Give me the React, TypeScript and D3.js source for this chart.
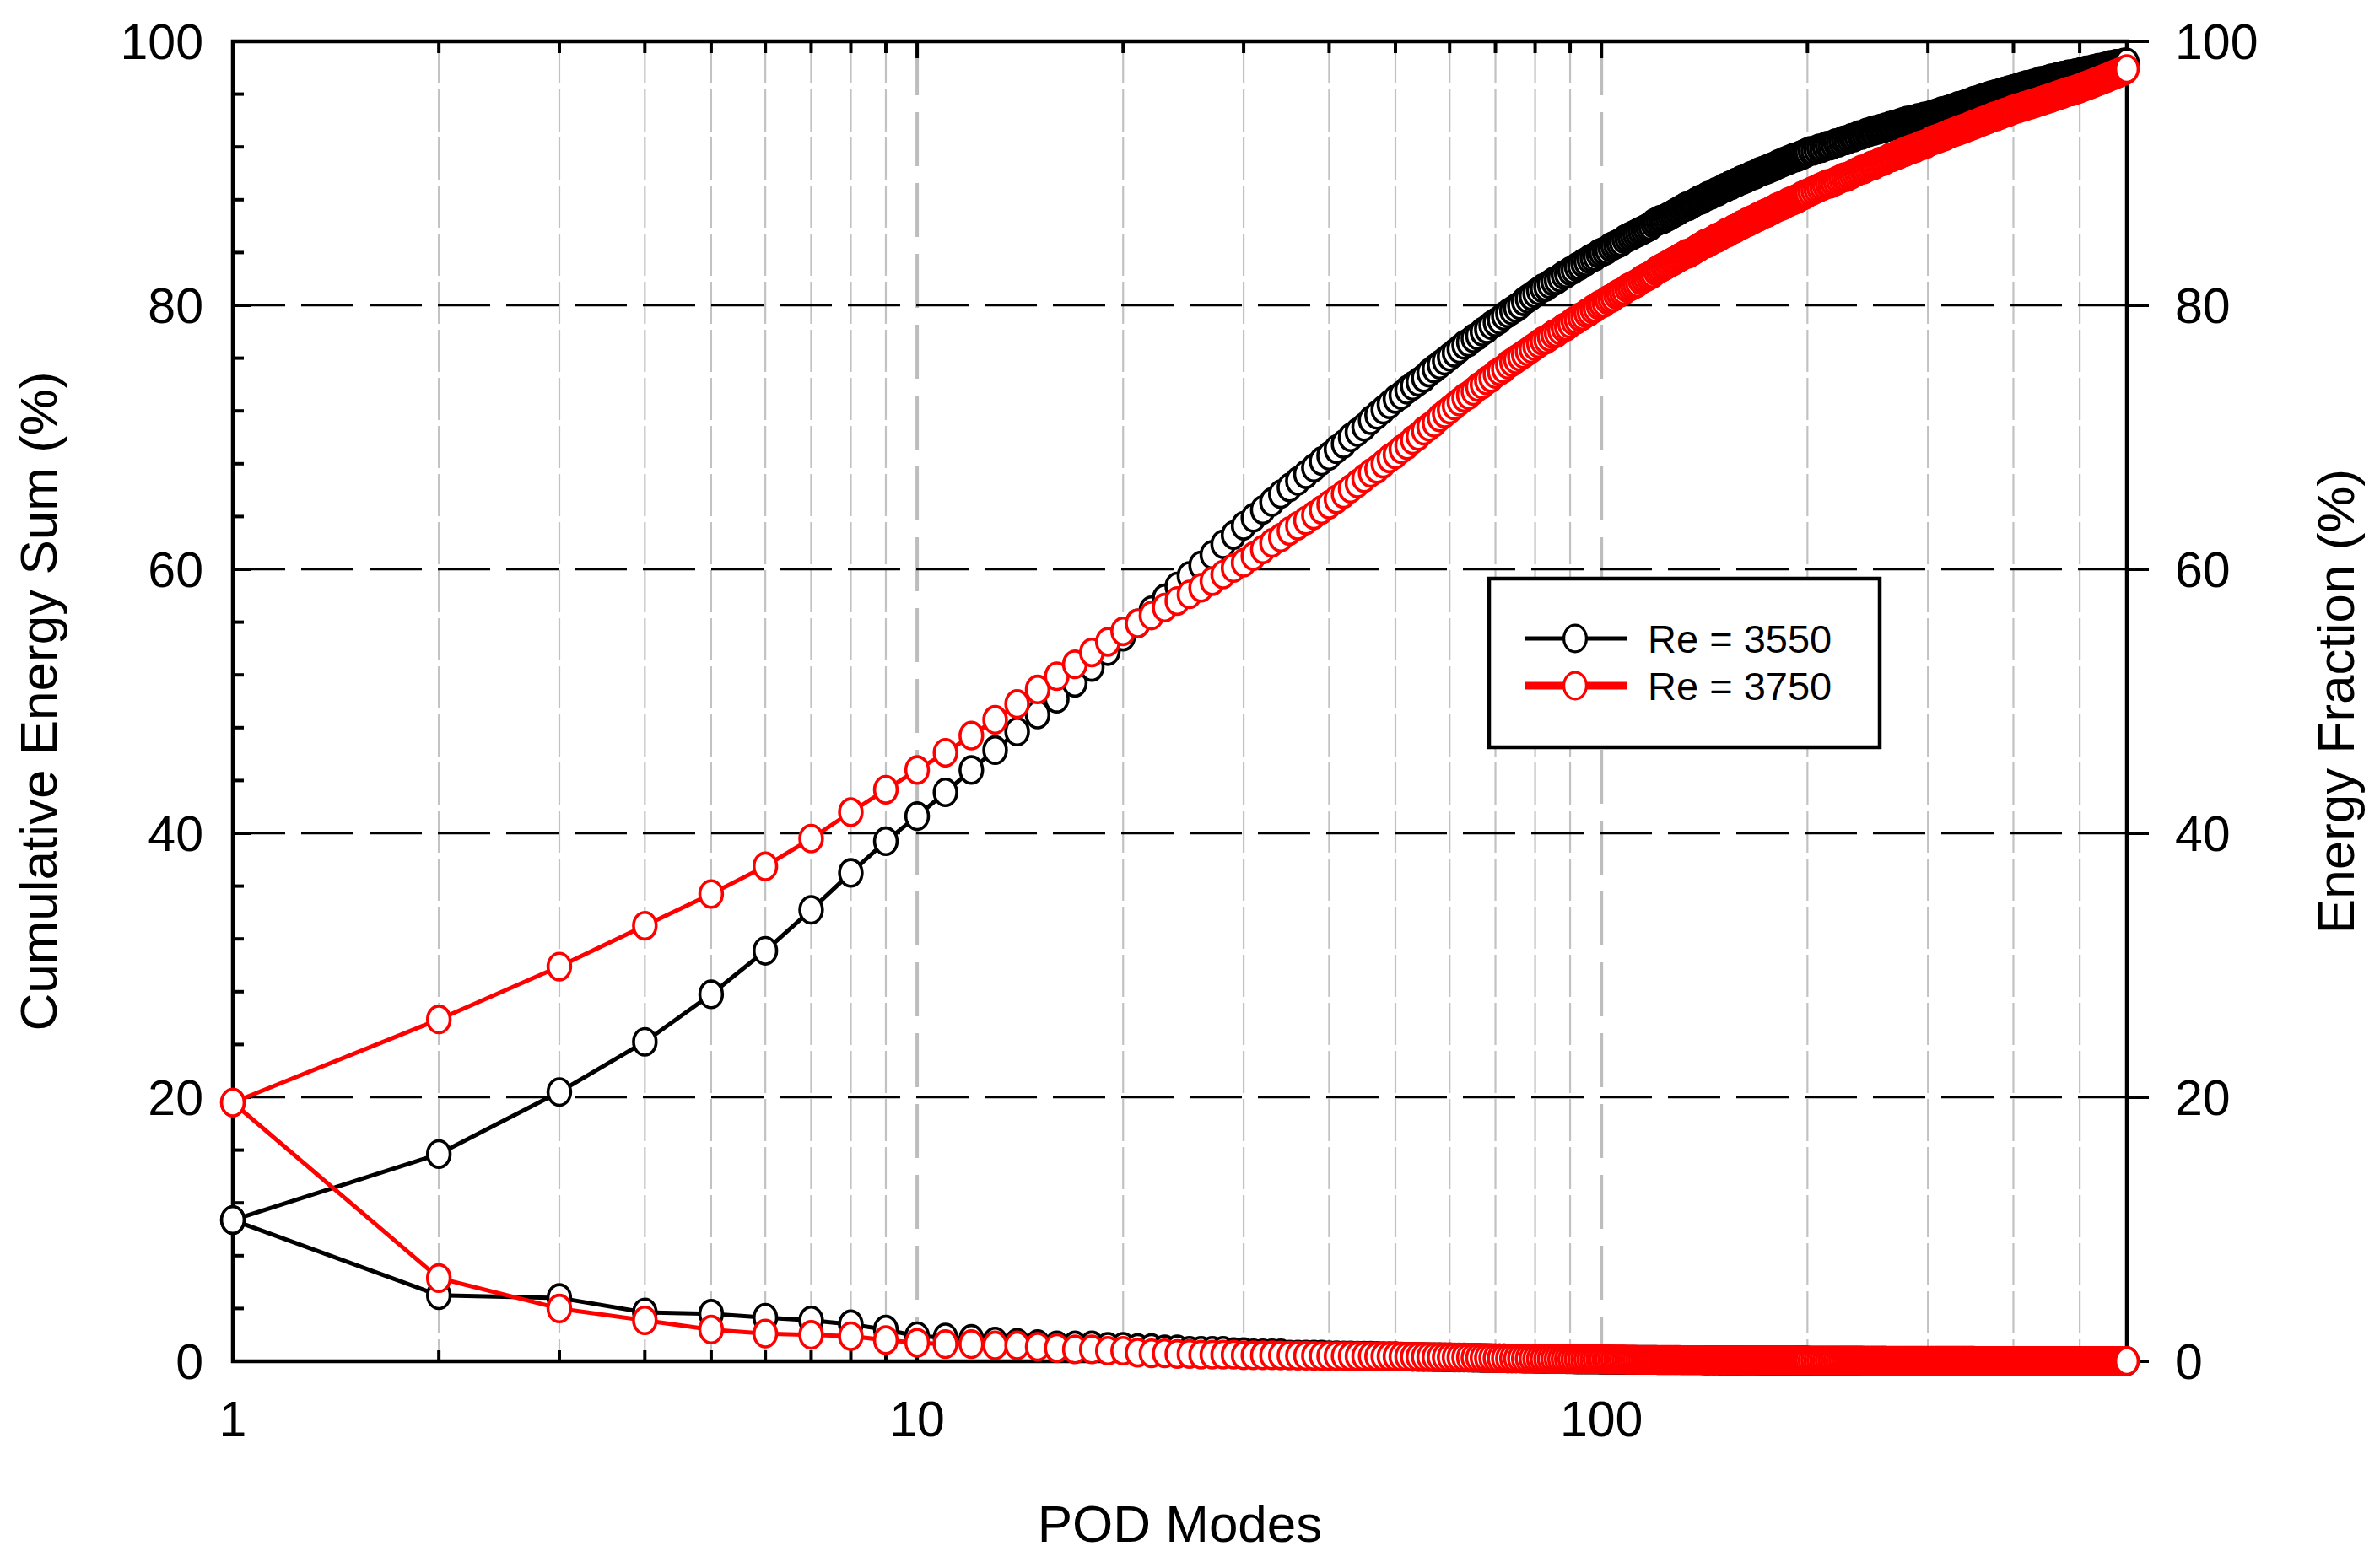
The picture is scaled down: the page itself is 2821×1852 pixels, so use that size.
import React from 'react';
import * as d3 from 'd3';

// ---------- DATA ----------
// sampled POD mode numbers (x categories)
const MODES: number[] = [
  ...d3.range(1, 201),
  ...d3.range(202, 401, 2),
  ...d3.range(403, 587, 3),
];

const CUM_3550 = [
  // 1-100
  10.7, 15.7, 20.4, 24.2, 27.8, 31.1, 34.2, 37.0, 39.4, 41.3,
  43.1, 44.8, 46.3, 47.7, 49.0, 50.2, 51.4, 52.6, 53.8, 54.9,
  55.9, 56.9, 57.8, 58.7, 59.5, 60.3, 61.1, 61.9, 62.6, 63.3,
  63.9, 64.5, 65.1, 65.7, 66.2, 66.7, 67.2, 67.7, 68.2, 68.6,
  69.1, 69.5, 70.0, 70.4, 70.8, 71.3, 71.7, 72.1, 72.5, 72.9,
  73.2, 73.6, 73.9, 74.2, 74.5, 74.9, 75.2, 75.5, 75.8, 76.1,
  76.4, 76.7, 77.0, 77.2, 77.5, 77.7, 78.0, 78.2, 78.5, 78.7,
  78.9, 79.2, 79.4, 79.6, 79.8, 80.0, 80.3, 80.5, 80.7, 80.9,
  81.1, 81.3, 81.4, 81.6, 81.8, 81.9, 82.1, 82.3, 82.4, 82.6,
  82.7, 82.9, 83.0, 83.2, 83.3, 83.5, 83.6, 83.7, 83.9, 84.0,
  // 101-200
  84.1, 84.2, 84.4, 84.5, 84.6, 84.7, 84.8, 85.0, 85.1, 85.2,
  85.3, 85.4, 85.5, 85.6, 85.7, 85.8, 85.9, 86.0, 86.2, 86.3,
  86.4, 86.5, 86.5, 86.6, 86.7, 86.8, 86.9, 87.0, 87.1, 87.2,
  87.3, 87.4, 87.5, 87.5, 87.6, 87.7, 87.8, 87.9, 88.0, 88.0,
  88.1, 88.2, 88.3, 88.3, 88.4, 88.5, 88.6, 88.6, 88.7, 88.8,
  88.9, 88.9, 89.0, 89.1, 89.1, 89.2, 89.3, 89.3, 89.4, 89.5,
  89.5, 89.6, 89.6, 89.7, 89.8, 89.8, 89.9, 89.9, 90.0, 90.1,
  90.1, 90.2, 90.2, 90.3, 90.3, 90.4, 90.4, 90.5, 90.5, 90.6,
  90.7, 90.7, 90.8, 90.8, 90.9, 90.9, 91.0, 91.0, 91.1, 91.1,
  91.2, 91.2, 91.2, 91.3, 91.3, 91.4, 91.4, 91.5, 91.5, 91.6,
  // 202-300 step 2
  91.7, 91.7, 91.8, 91.9, 91.9, 92.0, 92.1, 92.1, 92.2, 92.3,
  92.3, 92.4, 92.5, 92.5, 92.6, 92.7, 92.7, 92.8, 92.9, 92.9,
  93.0, 93.1, 93.1, 93.2, 93.2, 93.3, 93.3, 93.4, 93.4, 93.5,
  93.5, 93.6, 93.6, 93.7, 93.7, 93.8, 93.8, 93.9, 93.9, 94.0,
  94.0, 94.0, 94.1, 94.1, 94.2, 94.2, 94.2, 94.3, 94.3, 94.3,
  // 302-400 step 2
  94.4, 94.4, 94.5, 94.5, 94.6, 94.6, 94.7, 94.7, 94.7, 94.8,
  94.8, 94.9, 94.9, 95.0, 95.0, 95.1, 95.1, 95.1, 95.2, 95.2,
  95.3, 95.3, 95.4, 95.4, 95.5, 95.5, 95.5, 95.6, 95.6, 95.7,
  95.7, 95.7, 95.8, 95.8, 95.9, 95.9, 95.9, 96.0, 96.0, 96.0,
  96.1, 96.1, 96.1, 96.2, 96.2, 96.2, 96.3, 96.3, 96.3, 96.4,
  // 403-586 step 3
  96.4, 96.5, 96.5, 96.6, 96.6, 96.7, 96.7, 96.7, 96.8, 96.8,
  96.9, 96.9, 97.0, 97.0, 97.0, 97.1, 97.1, 97.2, 97.2, 97.2,
  97.3, 97.3, 97.3, 97.4, 97.4, 97.4, 97.5, 97.5, 97.5, 97.5,
  97.6, 97.6, 97.6, 97.7, 97.7, 97.7, 97.8, 97.8, 97.8, 97.8,
  97.9, 97.9, 97.9, 98.0, 98.0, 98.0, 98.0, 98.1, 98.1, 98.1,
  98.2, 98.2, 98.2, 98.2, 98.3, 98.3, 98.3, 98.3, 98.3, 98.4,
  98.4, 98.4,
];

const CUM_3750 = [
  // 1-100
  19.6, 25.9, 29.9, 33.0, 35.4, 37.5, 39.6, 41.6, 43.3, 44.8,
  46.1, 47.4, 48.6, 49.8, 50.9, 51.9, 52.8, 53.7, 54.5, 55.3,
  55.9, 56.5, 57.1, 57.6, 58.1, 58.6, 59.1, 59.6, 60.1, 60.5,
  61.0, 61.5, 62.0, 62.4, 62.9, 63.3, 63.7, 64.1, 64.5, 64.9,
  65.3, 65.7, 66.1, 66.5, 66.9, 67.3, 67.6, 68.0, 68.4, 68.7,
  69.1, 69.4, 69.8, 70.1, 70.5, 70.8, 71.1, 71.5, 71.8, 72.1,
  72.4, 72.7, 73.0, 73.2, 73.5, 73.8, 74.0, 74.3, 74.5, 74.8,
  75.0, 75.2, 75.5, 75.7, 75.9, 76.1, 76.3, 76.5, 76.7, 76.9,
  77.1, 77.3, 77.4, 77.6, 77.8, 77.9, 78.1, 78.3, 78.4, 78.6,
  78.8, 78.9, 79.1, 79.2, 79.4, 79.5, 79.7, 79.8, 80.0, 80.1,
  // 101-200
  80.2, 80.4, 80.5, 80.6, 80.8, 80.9, 81.0, 81.1, 81.3, 81.4,
  81.5, 81.6, 81.7, 81.9, 82.0, 82.1, 82.2, 82.3, 82.4, 82.6,
  82.7, 82.8, 82.9, 83.0, 83.1, 83.2, 83.3, 83.4, 83.5, 83.6,
  83.7, 83.8, 83.9, 83.9, 84.0, 84.1, 84.2, 84.3, 84.4, 84.5,
  84.6, 84.7, 84.7, 84.8, 84.9, 85.0, 85.1, 85.1, 85.2, 85.3,
  85.4, 85.5, 85.5, 85.6, 85.7, 85.8, 85.8, 85.9, 86.0, 86.1,
  86.1, 86.2, 86.3, 86.3, 86.4, 86.5, 86.5, 86.6, 86.7, 86.7,
  86.8, 86.9, 86.9, 87.0, 87.0, 87.1, 87.2, 87.2, 87.3, 87.4,
  87.4, 87.5, 87.5, 87.6, 87.6, 87.7, 87.8, 87.8, 87.9, 87.9,
  88.0, 88.0, 88.1, 88.1, 88.2, 88.3, 88.3, 88.4, 88.4, 88.5,
  // 202-300 step 2
  88.6, 88.7, 88.8, 88.9, 89.0, 89.1, 89.2, 89.2, 89.3, 89.4,
  89.5, 89.6, 89.7, 89.7, 89.8, 89.9, 90.0, 90.1, 90.2, 90.3,
  90.3, 90.4, 90.5, 90.6, 90.6, 90.7, 90.8, 90.9, 90.9, 91.0,
  91.1, 91.2, 91.2, 91.3, 91.4, 91.4, 91.5, 91.6, 91.6, 91.7,
  91.8, 91.8, 91.9, 91.9, 92.0, 92.1, 92.1, 92.2, 92.2, 92.3,
  // 302-400 step 2
  92.4, 92.5, 92.5, 92.6, 92.6, 92.7, 92.7, 92.8, 92.8, 92.9,
  93.0, 93.0, 93.1, 93.1, 93.2, 93.2, 93.3, 93.3, 93.4, 93.4,
  93.5, 93.5, 93.6, 93.6, 93.7, 93.7, 93.8, 93.8, 93.9, 93.9,
  94.0, 94.0, 94.1, 94.1, 94.2, 94.2, 94.3, 94.3, 94.3, 94.4,
  94.4, 94.5, 94.5, 94.6, 94.6, 94.6, 94.7, 94.7, 94.8, 94.8,
  // 403-586 step 3
  94.9, 94.9, 95.0, 95.0, 95.1, 95.1, 95.2, 95.2, 95.3, 95.3,
  95.4, 95.4, 95.5, 95.5, 95.6, 95.6, 95.7, 95.7, 95.8, 95.8,
  95.9, 95.9, 96.0, 96.0, 96.1, 96.1, 96.2, 96.2, 96.2, 96.3,
  96.3, 96.4, 96.4, 96.5, 96.5, 96.6, 96.6, 96.7, 96.7, 96.8,
  96.8, 96.9, 96.9, 97.0, 97.0, 97.1, 97.1, 97.2, 97.2, 97.3,
  97.3, 97.4, 97.4, 97.5, 97.5, 97.6, 97.6, 97.7, 97.7, 97.8,
  97.8, 97.9,
];

const FRAC_3550 = [
  // 1-150
  10.7, 5.0, 4.8, 3.7, 3.6, 3.3, 3.1, 2.8, 2.4, 1.9,
  1.8, 1.7, 1.5, 1.4, 1.3, 1.2, 1.2, 1.2, 1.1, 1.1,
  1.0, 1.0, 0.9, 0.9, 0.8, 0.8, 0.8, 0.8, 0.7, 0.7,
  0.6, 0.6, 0.6, 0.6, 0.5, 0.5, 0.5, 0.5, 0.5, 0.45,
  0.45, 0.44, 0.44, 0.43, 0.42, 0.42, 0.41, 0.4, 0.4, 0.39,
  0.36, 0.35, 0.34, 0.33, 0.33, 0.32, 0.31, 0.31, 0.3, 0.3,
  0.28, 0.28, 0.27, 0.27, 0.26, 0.26, 0.25, 0.25, 0.24, 0.24,
  0.23, 0.23, 0.22, 0.22, 0.21, 0.21, 0.2, 0.2, 0.2, 0.19,
  0.18, 0.18, 0.17, 0.17, 0.17, 0.16, 0.16, 0.16, 0.15, 0.15,
  0.15, 0.14, 0.14, 0.14, 0.14, 0.13, 0.13, 0.13, 0.13, 0.12,
  0.12, 0.12, 0.12, 0.12, 0.11, 0.11, 0.11, 0.11, 0.11, 0.11,
  0.1, 0.1, 0.1, 0.1, 0.1, 0.1, 0.1, 0.1, 0.1, 0.1,
  0.09, 0.09, 0.09, 0.09, 0.09, 0.09, 0.09, 0.09, 0.09, 0.09,
  0.08, 0.08, 0.08, 0.08, 0.08, 0.08, 0.08, 0.08, 0.08, 0.08,
  0.07, 0.07, 0.07, 0.07, 0.07, 0.07, 0.07, 0.07, 0.07, 0.07,
  // 151-200
  0.07, 0.07, 0.07, 0.07, 0.07, 0.07, 0.07, 0.07, 0.07, 0.07,
  0.065, 0.065, 0.065, 0.065, 0.065, 0.065, 0.065, 0.065, 0.065, 0.065,
  0.06, 0.06, 0.06, 0.06, 0.06, 0.06, 0.06, 0.06, 0.06, 0.06,
  0.055, 0.055, 0.055, 0.055, 0.055, 0.055, 0.055, 0.055, 0.055, 0.055,
  0.05, 0.05, 0.05, 0.05, 0.05, 0.05, 0.05, 0.05, 0.05, 0.05,
  // 202-300 step 2
  0.045, 0.045, 0.045, 0.045, 0.045, 0.045, 0.045, 0.045, 0.045, 0.045,
  0.035, 0.035, 0.035, 0.035, 0.035, 0.035, 0.035, 0.035, 0.035, 0.035,
  0.035, 0.035, 0.035, 0.035, 0.035, 0.035, 0.035, 0.035, 0.035, 0.035,
  0.028, 0.028, 0.028, 0.028, 0.028, 0.028, 0.028, 0.028, 0.028, 0.028,
  0.028, 0.028, 0.028, 0.028, 0.028, 0.028, 0.028, 0.028, 0.028, 0.028,
  // 302-400 step 2
  0.024, 0.024, 0.024, 0.024, 0.024, 0.024, 0.024, 0.024, 0.024, 0.024,
  0.024, 0.024, 0.024, 0.024, 0.024, 0.024, 0.024, 0.024, 0.024, 0.024,
  0.024, 0.024, 0.024, 0.024, 0.024, 0.02, 0.02, 0.02, 0.02, 0.02,
  0.02, 0.02, 0.02, 0.02, 0.02, 0.02, 0.02, 0.02, 0.02, 0.02,
  0.02, 0.02, 0.02, 0.02, 0.02, 0.02, 0.02, 0.02, 0.02, 0.02,
  // 403-586 step 3
  0.016, 0.016, 0.016, 0.016, 0.016, 0.016, 0.016, 0.016, 0.016, 0.016,
  0.016, 0.016, 0.016, 0.016, 0.016, 0.016, 0.016, 0.016, 0.016, 0.016,
  0.013, 0.013, 0.013, 0.013, 0.013, 0.013, 0.013, 0.013, 0.013, 0.013,
  0.013, 0.013, 0.013, 0.013, 0.013, 0.013, 0.013, 0.013, 0.013, 0.013,
  0.012, 0.012, 0.012, 0.012, 0.012, 0.012, 0.012, 0.012, 0.012, 0.012,
  0.012, 0.012, 0.012, 0.012, 0.012, 0.012, 0.012, 0.012, 0.012, 0.012,
  0.012, 0.012,
];

const FRAC_3750 = [
  // 1-150
  19.6, 6.3, 4.0, 3.1, 2.4, 2.1, 2.0, 1.9, 1.6, 1.4,
  1.3, 1.3, 1.2, 1.2, 1.1, 1.0, 0.9, 0.9, 0.8, 0.8,
  0.65, 0.6, 0.6, 0.55, 0.55, 0.5, 0.5, 0.5, 0.5, 0.45,
  0.45, 0.45, 0.45, 0.44, 0.43, 0.42, 0.42, 0.41, 0.4, 0.4,
  0.4, 0.4, 0.39, 0.39, 0.38, 0.38, 0.37, 0.37, 0.36, 0.36,
  0.35, 0.35, 0.34, 0.34, 0.33, 0.33, 0.32, 0.32, 0.31, 0.31,
  0.3, 0.29, 0.29, 0.28, 0.27, 0.27, 0.26, 0.25, 0.25, 0.24,
  0.23, 0.23, 0.22, 0.22, 0.21, 0.21, 0.2, 0.2, 0.2, 0.19,
  0.18, 0.18, 0.18, 0.17, 0.17, 0.17, 0.16, 0.16, 0.16, 0.16,
  0.15, 0.15, 0.15, 0.15, 0.15, 0.15, 0.15, 0.15, 0.15, 0.15,
  0.14, 0.14, 0.14, 0.13, 0.13, 0.13, 0.13, 0.13, 0.12, 0.12,
  0.12, 0.12, 0.11, 0.11, 0.11, 0.11, 0.11, 0.11, 0.1, 0.1,
  0.1, 0.1, 0.1, 0.1, 0.1, 0.1, 0.1, 0.1, 0.1, 0.1,
  0.09, 0.09, 0.09, 0.09, 0.09, 0.09, 0.09, 0.09, 0.09, 0.09,
  0.08, 0.08, 0.08, 0.08, 0.08, 0.08, 0.08, 0.08, 0.08, 0.08,
  // 151-200
  0.08, 0.08, 0.08, 0.08, 0.08, 0.08, 0.08, 0.08, 0.08, 0.08,
  0.075, 0.075, 0.075, 0.075, 0.075, 0.075, 0.075, 0.075, 0.075, 0.075,
  0.07, 0.07, 0.07, 0.07, 0.07, 0.07, 0.07, 0.07, 0.07, 0.07,
  0.07, 0.07, 0.07, 0.07, 0.07, 0.07, 0.07, 0.07, 0.07, 0.07,
  0.065, 0.065, 0.065, 0.065, 0.065, 0.065, 0.065, 0.065, 0.065, 0.065,
  // 202-300 step 2
  0.06, 0.06, 0.06, 0.06, 0.06, 0.06, 0.06, 0.06, 0.06, 0.06,
  0.05, 0.05, 0.05, 0.05, 0.05, 0.05, 0.05, 0.05, 0.05, 0.05,
  0.045, 0.045, 0.045, 0.045, 0.045, 0.045, 0.045, 0.045, 0.045, 0.045,
  0.045, 0.045, 0.045, 0.045, 0.045, 0.04, 0.04, 0.04, 0.04, 0.04,
  0.04, 0.04, 0.04, 0.04, 0.04, 0.04, 0.04, 0.04, 0.04, 0.04,
  // 302-400 step 2
  0.035, 0.035, 0.035, 0.035, 0.035, 0.035, 0.035, 0.035, 0.035, 0.035,
  0.035, 0.035, 0.035, 0.035, 0.035, 0.035, 0.035, 0.035, 0.035, 0.035,
  0.035, 0.035, 0.035, 0.035, 0.035, 0.03, 0.03, 0.03, 0.03, 0.03,
  0.03, 0.03, 0.03, 0.03, 0.03, 0.03, 0.03, 0.03, 0.03, 0.03,
  0.03, 0.03, 0.03, 0.03, 0.03, 0.03, 0.03, 0.03, 0.03, 0.03,
  // 403-586 step 3
  0.025, 0.025, 0.025, 0.025, 0.025, 0.025, 0.025, 0.025, 0.025, 0.025,
  0.025, 0.025, 0.025, 0.025, 0.025, 0.025, 0.025, 0.025, 0.025, 0.025,
  0.02, 0.02, 0.02, 0.02, 0.02, 0.02, 0.02, 0.02, 0.02, 0.02,
  0.02, 0.02, 0.02, 0.02, 0.02, 0.02, 0.02, 0.02, 0.02, 0.02,
  0.018, 0.018, 0.018, 0.018, 0.018, 0.018, 0.018, 0.018, 0.018, 0.018,
  0.018, 0.018, 0.018, 0.018, 0.018, 0.018, 0.018, 0.018, 0.018, 0.018,
  0.018, 0.018,
];

const SERIES_NAMES = ['Re = 3550', 'Re = 3750'];
const SERIES_COLORS = ['#000000', '#ff0000'];

const Y_TICKS = [0, 20, 40, 60, 80, 100];
const Y_MINOR = [4, 8, 12, 16, 24, 28, 32, 36, 44, 48, 52, 56, 64, 68, 72, 76, 84, 88, 92, 96];
const X_MAJOR = [1, 10, 100];
const X_MAJOR_LABELS = ['1', '10', '100'];
const X_MINOR = [2, 3, 4, 5, 6, 7, 8, 9, 20, 30, 40, 50, 60, 70, 80, 90, 200, 300, 400, 500];
const X_MAX = 586;

const X_TITLE = 'POD Modes';
const Y_TITLE_LEFT = 'Cumulative Energy Sum (%)';
const Y_TITLE_RIGHT = 'Energy Fraction (%)';

// ---------- LAYOUT ----------
const W = 2821;
const H = 1852;
const L = 276, R = 2521, T = 49, B = 1614;
const FONT = "'Liberation Sans', Arial, Helvetica, sans-serif";

export default function App() {
  const x = d3.scaleLog().domain([1, X_MAX]).range([L, R]);
  const y = d3.scaleLinear().domain([0, 100]).range([B, T]);
  const line = d3.line<[number, number]>().x((d) => x(d[0])).y((d) => y(d[1]));

  const zip = (vals: number[]): [number, number][] => {
    const n = Math.min(MODES.length, vals.length);
    const out: [number, number][] = [];
    for (let i = 0; i < n; i++) out.push([MODES[i], vals[i]]);
    return out;
  };

  const series = [
    { name: SERIES_NAMES[0], color: SERIES_COLORS[0], cum: zip(CUM_3550), frac: zip(FRAC_3550), lw: 5 },
    { name: SERIES_NAMES[1], color: SERIES_COLORS[1], cum: zip(CUM_3750), frac: zip(FRAC_3750), lw: 5 },
  ];

  const RX = 13.4;
  const RY = 15.8;
  const MSW = 3.6;

  return (
    <svg
      width={W}
      height={H}
      viewBox={`0 0 ${W} ${H}`}
      style={{ position: 'absolute', left: 0, top: 0, display: 'block', background: '#fff' }}
      fontFamily={FONT}
    >
      <rect x={0} y={0} width={W} height={H} fill="#fff" />

      {/* vertical grid */}
      {X_MINOR.map((v) => (
        <line key={'gx' + v} x1={x(v)} x2={x(v)} y1={T} y2={B} stroke="#c2c2c2" strokeWidth={2.2} strokeDasharray="50,7" />
      ))}
      {X_MAJOR.slice(1).map((v) => (
        <line key={'gX' + v} x1={x(v)} x2={x(v)} y1={T} y2={B} stroke="#bdbdbd" strokeWidth={4} strokeDasharray="64,20" />
      ))}
      {/* horizontal grid */}
      {Y_TICKS.slice(1, -1).map((v) => (
        <line key={'gy' + v} x1={L} x2={R} y1={y(v)} y2={y(v)} stroke="#000" strokeWidth={2.6} strokeDasharray="62,19" />
      ))}

      {/* frame and ticks */}
      <g stroke="#000" strokeWidth={4}>
        {Y_TICKS.map((v) => (
          <line key={'lt' + v} x1={L} x2={L + 21} y1={y(v)} y2={y(v)} />
        ))}
        {Y_MINOR.map((v) => (
          <line key={'lm' + v} x1={L} x2={L + 13} y1={y(v)} y2={y(v)} />
        ))}
        {Y_TICKS.map((v) => (
          <line key={'rt' + v} x1={R} x2={R + 26} y1={y(v)} y2={y(v)} />
        ))}
        {X_MINOR.map((v) => (
          <g key={'xm' + v}>
            <line x1={x(v)} x2={x(v)} y1={B} y2={B - 13} />
            <line x1={x(v)} x2={x(v)} y1={T} y2={T + 14} />
          </g>
        ))}
        {X_MAJOR.slice(1).map((v) => (
          <g key={'xM' + v}>
            <line x1={x(v)} x2={x(v)} y1={B} y2={B - 20} />
            <line x1={x(v)} x2={x(v)} y1={T} y2={T + 20} />
          </g>
        ))}
      </g>
      <rect x={L} y={T} width={R - L} height={B - T} fill="none" stroke="#000" strokeWidth={4.5} />

      {/* series */}
      {series.map((s) => (
        <g key={s.name}>
          <path d={line(s.cum) || ''} fill="none" stroke={s.color} strokeWidth={s.lw} strokeLinejoin="round" />
          <path d={line(s.frac) || ''} fill="none" stroke={s.color} strokeWidth={s.lw} strokeLinejoin="round" />
          {s.cum.map((d, i) => (
            <ellipse key={'c' + i} cx={x(d[0])} cy={y(d[1])} rx={RX} ry={RY} fill="#fff" stroke={s.color} strokeWidth={MSW} />
          ))}
          {s.frac.map((d, i) => (
            <ellipse key={'f' + i} cx={x(d[0])} cy={y(d[1])} rx={RX} ry={RY} fill="#fff" stroke={s.color} strokeWidth={MSW} />
          ))}
        </g>
      ))}

      {/* tick labels */}
      <g fontSize={59} fill="#000">
        {Y_TICKS.map((v) => (
          <text key={'yl' + v} x={241} y={y(v) + 21} textAnchor="end">
            {String(v)}
          </text>
        ))}
        {Y_TICKS.map((v) => (
          <text key={'yr' + v} x={2578} y={y(v) + 21} textAnchor="start">
            {String(v)}
          </text>
        ))}
        {X_MAJOR.map((v, i) => (
          <text key={'xl' + v} x={x(v)} y={1703} textAnchor="middle">
            {X_MAJOR_LABELS[i]}
          </text>
        ))}
      </g>

      {/* axis titles */}
      <text x={(L + R) / 2} y={1828} textAnchor="middle" fontSize={62}>
        {X_TITLE}
      </text>
      <text transform={`translate(67, ${(T + B) / 2}) rotate(-90)`} textAnchor="middle" fontSize={62}>
        {Y_TITLE_LEFT}
      </text>
      <text transform={`translate(2790, ${(T + B) / 2}) rotate(-90)`} textAnchor="middle" fontSize={62}>
        {Y_TITLE_RIGHT}
      </text>

      {/* legend */}
      <g>
        <rect x={1765} y={686} width={463} height={200} fill="#fff" stroke="#000" strokeWidth={4.5} />
        {series.map((s, i) => {
          const ly = 757 + i * 56;
          return (
            <g key={'lg' + i}>
              <line x1={1807} x2={1928} y1={ly} y2={ly} stroke={s.color} strokeWidth={i === 0 ? 5 : 9} />
              <ellipse cx={1867} cy={ly} rx={RX} ry={RY} fill="#fff" stroke={s.color} strokeWidth={3.2} />
              <text x={1953} y={ly + 17} fontSize={47} fill="#000">
                {s.name}
              </text>
            </g>
          );
        })}
      </g>
    </svg>
  );
}
